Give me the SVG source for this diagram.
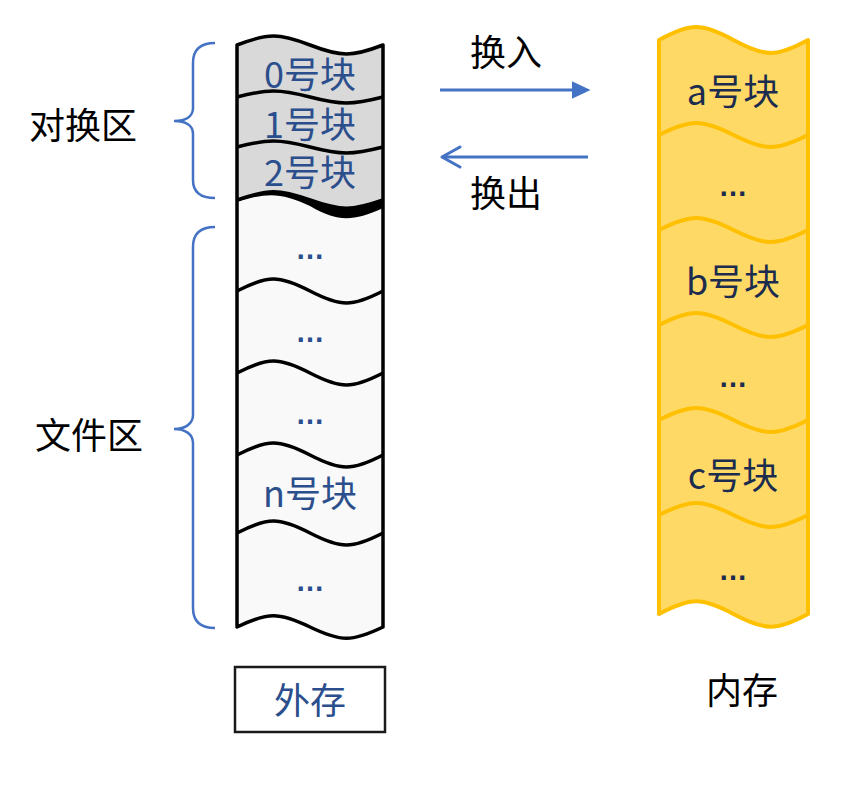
<svg xmlns="http://www.w3.org/2000/svg" width="860" height="806" viewBox="0 0 860 806">
<style>
.cjk{font-family:"Noto Sans CJK SC","Noto Sans",sans-serif;font-size:36px;text-anchor:middle}
.blk{fill:#2B4E8C}
.mem{fill:#1B2C4E}
.lbl{fill:#000}
.dots{font-family:"Liberation Sans",sans-serif;font-size:29px;font-weight:bold;text-anchor:middle}
.sep{fill:none;stroke:#000;stroke-width:3.5}
.msep{fill:none;stroke:#FFC000;stroke-width:4}
.brace{fill:none;stroke:#4472C4;stroke-width:2.5}
.conn{fill:none;stroke:#4472C4;stroke-width:3}
</style>
<defs>
<marker id="tri" markerUnits="userSpaceOnUse" markerWidth="20" markerHeight="20" viewBox="0 0 16 16" refX="5" refY="8" orient="auto">
<path d="M0,1 L15,8 L0,15 Z" fill="#4472C4"/>
</marker>
<marker id="chev" markerUnits="userSpaceOnUse" markerWidth="26" markerHeight="26" viewBox="-3 -3 26 26" refX="18" refY="10" orient="auto">
<path d="M0,0 L18,10 L0,20" fill="none" stroke="#4472C4" stroke-width="3" stroke-linejoin="round" stroke-linecap="round"/>
</marker>
</defs>
<rect width="860" height="806" fill="#fff"/>

<g id="swap-area-label">
<text class="cjk lbl" x="83" y="139">对换区</text>
<path class="brace" d="M215,43 C200,43 193,50 193,63 L193,108 C193,117 185,121 174,121 C185,121 193,125 193,134 L193,180 C193,192 200,198 215,198"/>
</g>
<g id="file-area-label">
<text class="cjk lbl" x="89" y="449">文件区</text>
<path class="brace" d="M215,227 C200,227 193,234 193,247 L193,415 C193,424 185,429 174,429 C185,429 193,434 193,443 L193,608 C193,621 200,628 215,628"/>
</g>

<g id="disk">
<path d="M237,45 C268,33 279,33 310,45 C341,57 352,57 383,45 L383,200 C352,211 341,211 310,200 C279,189 268,189 237,200 Z" fill="#D9D9D9"/>
<path d="M237,200 C268,189 279,189 310,200 C341,211 352,211 383,200 L383,627 C352,642 341,642 310,627 C279,612 268,612 237,627 Z" fill="#F9F9F9"/>
<path d="M237,200 C268,189 279,189 310,200 C341,211 352,211 383,200 L383,208 C352,222 338,222 310,206 C282,193 268,192 237,202 Z" fill="#000"/>
<path class="sep" d="M237,97 C268,89 279,89 310,97 C341,105 352,105 383,97"/>
<path class="sep" d="M237,147 C268,139 279,139 310,147 C341,155 352,155 383,147"/>
<path class="sep" d="M237,200 C268,189 279,189 310,200 C341,211 352,211 383,200"/>
<path class="sep" d="M237,291 C268,275 279,275 310,291 C341,307 352,307 383,291"/>
<path class="sep" d="M237,373 C268,357 279,357 310,373 C341,389 352,389 383,373"/>
<path class="sep" d="M237,455 C268,439 279,439 310,455 C341,471 352,471 383,455"/>
<path class="sep" d="M237,533 C268,517 279,517 310,533 C341,549 352,549 383,533"/>
<path class="sep" stroke-width="4" stroke-linejoin="round" d="M237,45 C268,33 279,33 310,45 C341,57 352,57 383,45 L383,627 C352,642 341,642 310,627 C279,612 268,612 237,627 Z"/>
<g id="block-0"><text class="cjk blk" x="310" y="88">0号块</text></g>
<g id="block-1"><text class="cjk blk" x="310" y="138">1号块</text></g>
<g id="block-2"><text class="cjk blk" x="310" y="186">2号块</text></g>
<g id="file-dots-1"><text class="dots blk" x="310" y="259">…</text></g>
<g id="file-dots-2"><text class="dots blk" x="310" y="342">…</text></g>
<g id="file-dots-3"><text class="dots blk" x="310" y="424">…</text></g>
<g id="block-n"><text class="cjk blk" x="310" y="507">n号块</text></g>
<g id="file-dots-4"><text class="dots blk" x="310" y="591">…</text></g>
</g>

<g id="disk-label">
<rect x="235" y="667" width="150" height="65" fill="#fff" stroke="#1a1a1a" stroke-width="2.5"/>
<text class="cjk blk" x="310" y="714">外存</text>
</g>

<g id="memory">
<path d="M659,40 C690.6,22.7 701.9,22.7 733.5,40 C765.1,57.3 776.4,57.3 808,40 L808,614 C776.4,631 765.1,631 733.5,614 C701.9,597 690.6,597 659,614 Z" fill="#FFD966" stroke="#FFC000" stroke-width="4" stroke-linejoin="round"/>
<path class="msep" d="M659,135 C690.6,119 701.9,119 733.5,135 C765.1,151 776.4,151 808,135"/>
<path class="msep" d="M659,230 C690.6,214 701.9,214 733.5,230 C765.1,246 776.4,246 808,230"/>
<path class="msep" d="M659,325 C690.6,309 701.9,309 733.5,325 C765.1,341 776.4,341 808,325"/>
<path class="msep" d="M659,420 C690.6,404 701.9,404 733.5,420 C765.1,436 776.4,436 808,420"/>
<path class="msep" d="M659,515 C690.6,499 701.9,499 733.5,515 C765.1,531 776.4,531 808,515"/>
<g id="block-a"><text class="cjk mem" x="733" y="105">a号块</text></g>
<g id="mem-dots-1"><text class="dots mem" x="733" y="196">…</text></g>
<g id="block-b"><text class="cjk mem" x="733" y="295">b号块</text></g>
<g id="mem-dots-2"><text class="dots mem" x="733" y="387">…</text></g>
<g id="block-c"><text class="cjk mem" x="733" y="489">c号块</text></g>
<g id="mem-dots-3"><text class="dots mem" x="733" y="580">…</text></g>
</g>

<g id="memory-label">
<text class="cjk lbl" x="742" y="704">内存</text>
</g>

<g id="connectors">
<path class="conn" d="M440,90 L578,90" marker-end="url(#tri)"/>
<text class="cjk lbl" x="506" y="66">换入</text>
<path class="conn" d="M588,157 L442,157" marker-end="url(#chev)"/>
<text class="cjk lbl" x="506" y="207">换出</text>
</g>
</svg>
